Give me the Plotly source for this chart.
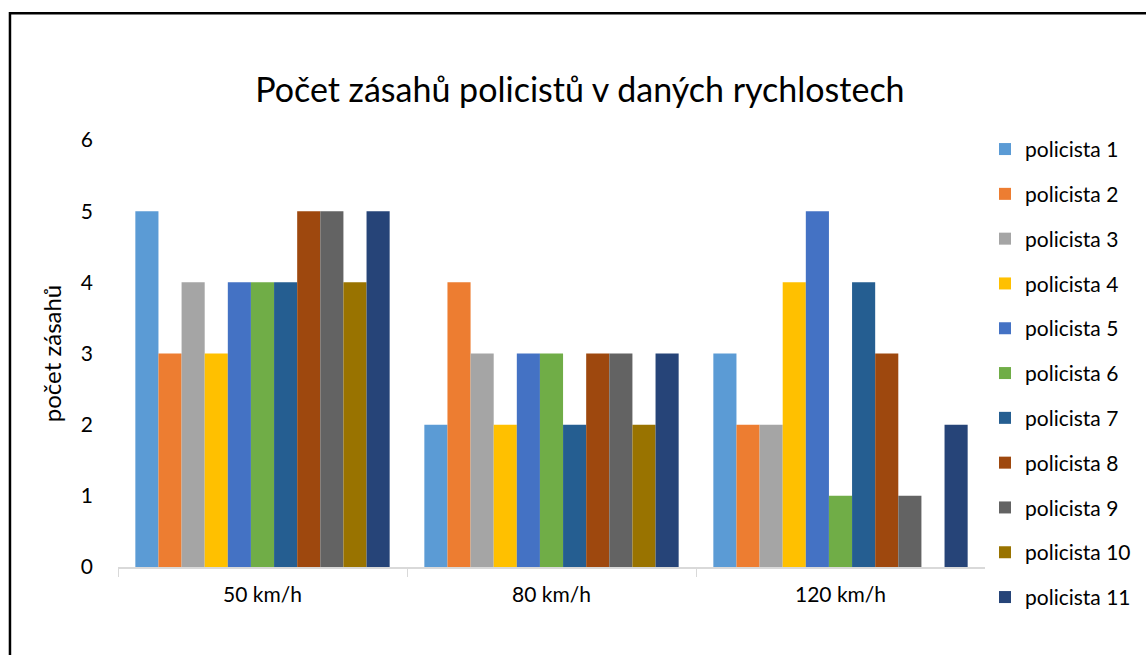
import plotly.graph_objects as go

categories = ["50 km/h", "80 km/h", "120 km/h"]
series_names = ["policista 1", "policista 2", "policista 3", "policista 4", "policista 5",
                "policista 6", "policista 7", "policista 8", "policista 9", "policista 10",
                "policista 11"]
values = [
    [5, 2, 3],
    [3, 4, 2],
    [4, 3, 2],
    [3, 2, 4],
    [4, 3, 5],
    [4, 3, 1],
    [4, 2, 4],
    [5, 3, 3],
    [5, 3, 1],
    [4, 2, 0],
    [5, 3, 2],
]
colors = ["#5B9BD5", "#ED7D31", "#A5A5A5", "#FFC000", "#4472C4", "#70AD47",
          "#255E91", "#9E480E", "#636363", "#997300", "#264478"]

FONT = "Lato"

fig = go.Figure()
for name, vals, col in zip(series_names, values, colors):
    fig.add_trace(go.Bar(x=categories, y=vals, name=name, marker_color=col,
                         marker_line_width=0, legendgroup=name))

fig.update_layout(
    width=1146, height=655,
    barmode="group", bargap=0.12, bargroupgap=0,
    plot_bgcolor="white", paper_bgcolor="white",
    font=dict(family=FONT, size=21, color="#000000"),
    title=dict(text="Počet zásahů policistů v daných rychlostech", x=0.506, xanchor="center",
               y=0.862, yanchor="middle", font=dict(size=34, color="#000000", family=FONT)),
    margin=dict(l=118, r=161, t=140, b=88, autoexpand=False),
    legend=dict(x=1.0, y=1.026, xanchor="left", yanchor="top", traceorder="grouped",
                tracegroupgap=14.5, font=dict(size=21), itemwidth=30, maxheight=620),
    showlegend=True,
)
fig.update_xaxes(showline=True, linecolor="#D9D9D9", linewidth=1.5, ticks="outside",
                 tickson="boundaries", ticklen=8, tickcolor="#D9D9D9", showgrid=False,
                 ticklabelstandoff=8, tickfont=dict(size=21))
fig.update_yaxes(range=[0, 6], dtick=1, showgrid=False, zeroline=False, showline=False,
                 ticks="", ticklabelstandoff=24, tickfont=dict(size=21),
                 title=dict(text="počet zásahů", font=dict(size=24), standoff=12))

# black frame around the chart
fig.add_shape(type="rect", xref="paper", yref="paper", x0=-0.1246, x1=1.3, y0=-0.4, y1=1.297,
              line=dict(color="black", width=2.5), fillcolor="rgba(0,0,0,0)")

fig.write_html("out.html", config={"displayModeBar": False},
               post_script="document.body.style.margin='0';")
